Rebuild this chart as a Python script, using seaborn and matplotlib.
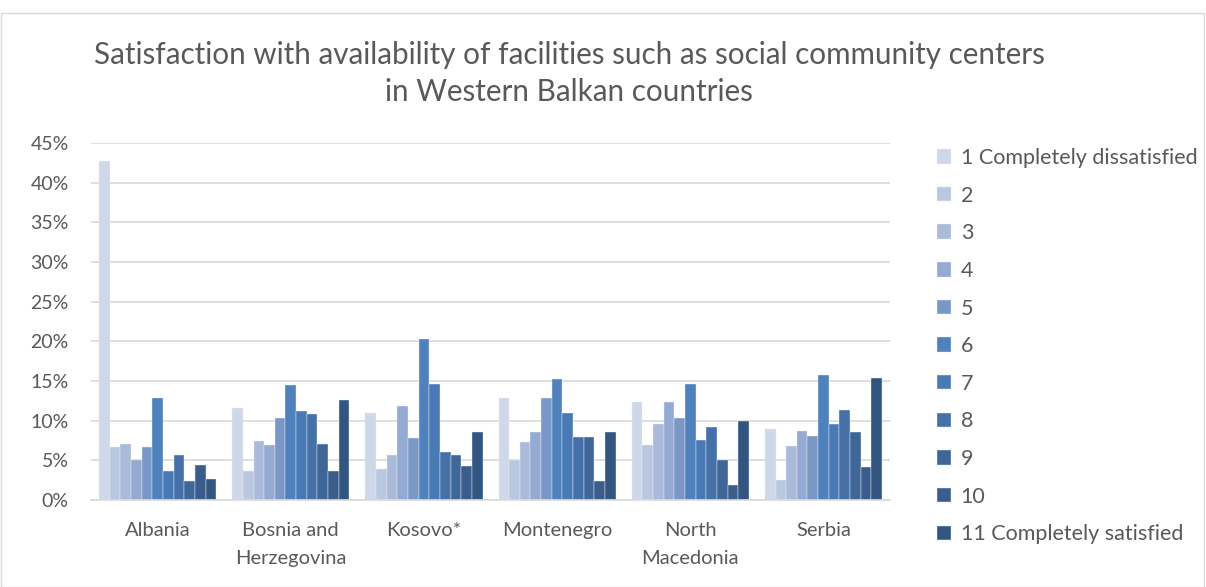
import numpy as np
import pandas as pd
import matplotlib
matplotlib.use("Agg")
import matplotlib.pyplot as plt
import seaborn as sns
from matplotlib.ticker import FuncFormatter
from matplotlib.patches import Rectangle

countries = ["Albania", "Bosnia and\nHerzegovina", "Kosovo*", "Montenegro", "North\nMacedonia", "Serbia"]
levels = ["1 Completely dissatisfied", "2", "3", "4", "5", "6", "7", "8", "9", "10", "11 Completely satisfied"]

albania = [42.8, 6.7, 7.1, 5.1, 6.7, 12.8, 3.7, 5.7, 2.4, 4.4, 2.7]
bosnia = [11.6, 3.6, 7.4, 6.9, 10.4, 14.5, 11.2, 10.9, 7.1, 3.6, 12.6]
kosovo = [11.0, 3.9, 5.7, 11.8, 7.8, 20.3, 14.6, 6.1, 5.7, 4.3, 8.6]
montenegro = [12.9, 5.0, 7.3, 8.6, 12.9, 15.3, 11.0, 7.9, 7.9, 2.4, 8.6]
north_macedonia = [12.3, 6.9, 9.6, 12.3, 10.3, 14.6, 7.6, 9.2, 5.0, 1.9, 10.0]
serbia = [9.0, 2.5, 6.8, 8.7, 8.1, 15.8, 9.6, 11.4, 8.6, 4.1, 15.4]

colors = ["#CFD8E8", "#BAC7E1", "#ABBAD9", "#95AAD2", "#7998C6", "#4F81BD",
          "#4A7AB5", "#4571A8", "#3F6699", "#3A5D8C", "#325680"]

series = [albania, bosnia, kosovo, montenegro, north_macedonia, serbia]
rows = []
for c, vals in zip(countries, series):
    for lv, v in zip(levels, vals):
        rows.append({"country": c, "level": lv, "value": v})
df = pd.DataFrame(rows)

sns.set_theme(style="white")
plt.rcParams["font.family"] = ["Lato", "DejaVu Sans"]
text_color = "#595959"

fig = plt.figure(figsize=(12.06, 5.87), dpi=100)
ax = fig.add_axes([0.0755, 0.1482, 0.6625, 0.608])

sns.barplot(data=df, x="country", y="value", hue="level", order=countries,
            hue_order=levels, palette=colors, width=0.88, ax=ax,
            edgecolor="#E8EEF6", linewidth=0.3, saturation=1)

ax.set_ylim(0, 45)
ax.set_yticks(np.arange(0, 46, 5))
ax.yaxis.set_major_formatter(FuncFormatter(lambda v, p: f"{int(v)}%"))
ax.grid(axis="y", color="#D9D9D9", linewidth=1.2)
ax.set_axisbelow(True)
for s in ["top", "right", "left"]:
    ax.spines[s].set_visible(False)
ax.spines["bottom"].set_color("#D9D9D9")
ax.spines["bottom"].set_linewidth(1.2)
ax.set_xlabel("")
ax.set_ylabel("")
ax.tick_params(axis="both", colors=text_color, labelsize=14, length=0)
ax.tick_params(axis="y", pad=16)
ax.tick_params(axis="x", pad=16)
for lbl in ax.get_xticklabels():
    lbl.set_linespacing(1.75)
    lbl.set_fontsize(14.5)
ax.set_xlim(-0.5, 5.5)

handles, labels = ax.get_legend_handles_labels()
if ax.legend_:
    ax.legend_.remove()
leg = fig.legend(handles, labels, loc="upper left", bbox_to_anchor=(0.777, 0.748),
                 frameon=False, fontsize=15.5, handlelength=0.65, handleheight=0.65,
                 handletextpad=0.45, labelspacing=0.82, labelcolor=text_color,
                 borderaxespad=0, borderpad=0)

fig.text(0.472, 0.906, "Satisfaction with availability of facilities such as social community centers",
         ha="center", va="center", fontsize=21.3, color=text_color)
fig.text(0.472, 0.843, "in Western Balkan countries",
         ha="center", va="center", fontsize=21.3, color=text_color)

fig.patches.append(Rectangle((0.001, 0.0), 0.997, 0.978, transform=fig.transFigure,
                             fill=False, edgecolor="#D9D9D9", linewidth=1))

fig.savefig("out.png", dpi=100)
